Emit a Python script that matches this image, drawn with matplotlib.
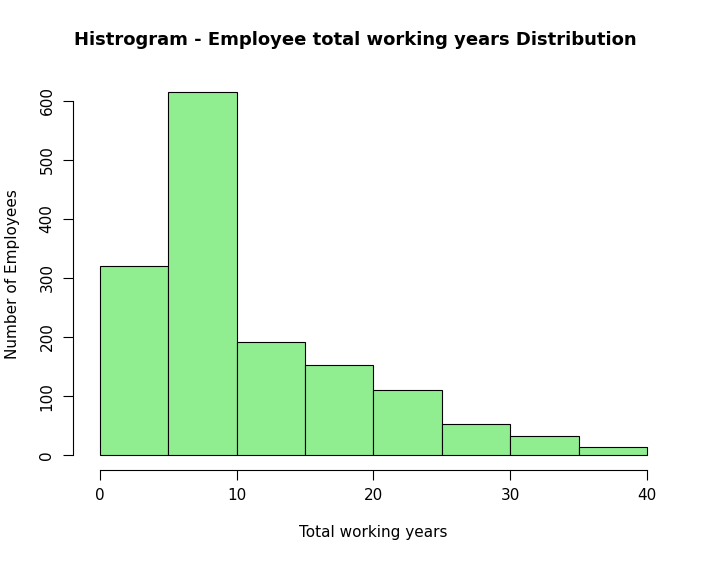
import matplotlib
matplotlib.use("Agg")
import matplotlib.pyplot as plt

bin_edges = [0, 5, 10, 15, 20, 25, 30, 35, 40]
counts = [320, 614, 192, 152, 110, 52, 32, 14]

fig = plt.figure(figsize=(7.1, 5.68), dpi=100)
ax = fig.add_axes([0.110, 0.173, 0.832, 0.690])
ax.bar(bin_edges[:-1], counts, width=5, align="edge", color="#90EE90",
       edgecolor="black", linewidth=0.8)
ax.set_xlim(-1.6, 41.6)
ax.set_ylim(-24.6, 638.6)
ax.set_xticks([0, 10, 20, 30, 40])
ax.set_yticks([0, 100, 200, 300, 400, 500, 600])
for s in ["top", "right"]:
    ax.spines[s].set_visible(False)
ax.spines["left"].set_bounds(0, 600)
ax.spines["bottom"].set_bounds(0, 40)
ax.spines["left"].set_position(("outward", 4))
ax.spines["bottom"].set_position(("outward", 0))
ax.tick_params(labelsize=11, length=7, pad=6)
for lab in ax.get_yticklabels():
    lab.set_rotation(90)
    lab.set_va("center")
ax.set_xlabel("Total working years", fontsize=11, labelpad=16)
ax.set_ylabel("Number of Employees", fontsize=11, labelpad=14)
fig.suptitle("Histrogram - Employee total working years Distribution",
             fontsize=13, fontweight="bold", y=0.945)
fig.savefig("out.png", dpi=100)
